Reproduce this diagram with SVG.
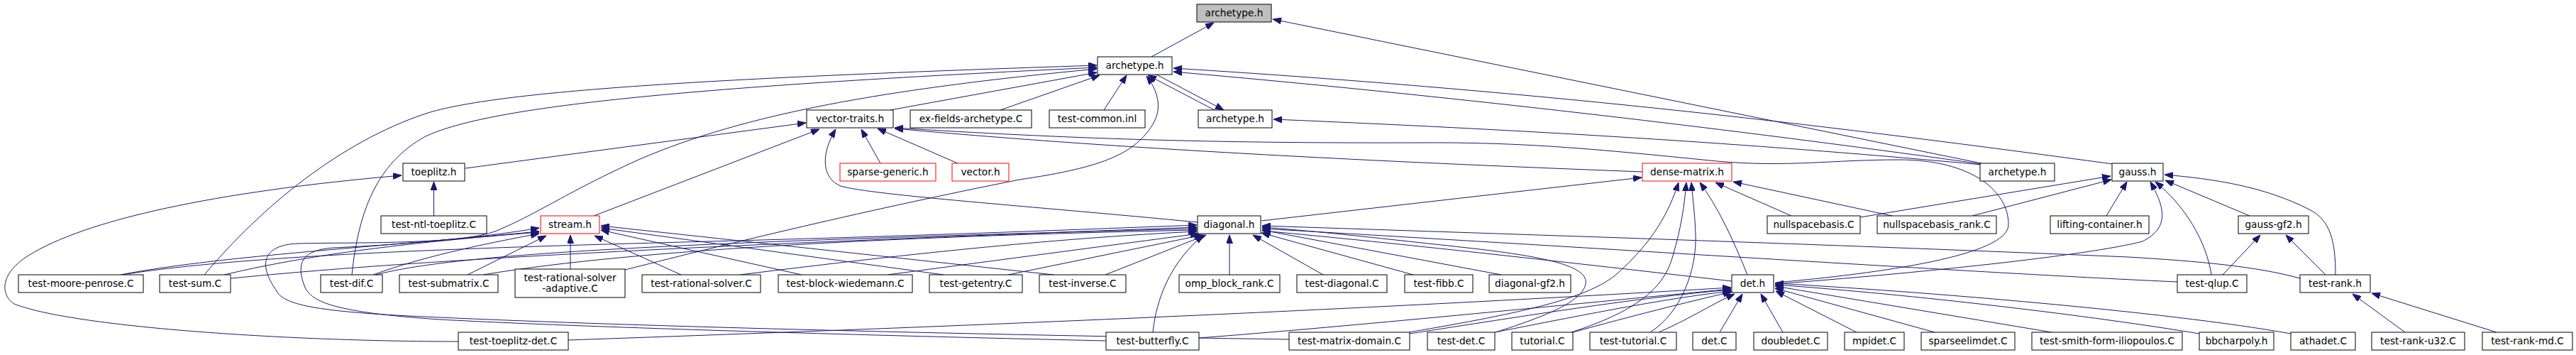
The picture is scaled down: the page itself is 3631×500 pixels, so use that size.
<svg xmlns="http://www.w3.org/2000/svg" width="3631" height="500" viewBox="0 0 3631 500">
<style>
.n rect{fill:#fff;stroke:#000;stroke-width:1}
.n.r rect{stroke:#ff0000}
.n.g rect{fill:#bfbfbf}
.n text{font-family:"DejaVu Sans",sans-serif;font-size:13.7px;fill:#000;text-anchor:middle}
.e path{fill:none;stroke:#191970;stroke-width:1;marker-end:url(#ah)}
</style>
<defs>
<marker id="ah" viewBox="0 0 12 9" refX="12" refY="4.5" markerWidth="12" markerHeight="9" markerUnits="userSpaceOnUse" orient="auto"><path d="M0,0 L12,4.5 L0,9 z" fill="#191970" stroke="#191970"/></marker>
</defs>
<rect x="0" y="0" width="3631" height="500" fill="#fff"/>
<g id="edges" class="e">
<path d="M1623,80 L1711,32"/>
<path d="M2793,230 L1794,27"/>
<path d="M2793,231 C2500,190 2100,140 1654,101"/>
<path d="M2978,231 C2600,180 2200,130 1654,96"/>
<path d="M2793,232 C2500,205 2200,185 1795,168"/>
<path d="M1255,155 L1546,102"/>
<path d="M1410,155 L1550,106"/>
<path d="M1556,155 L1588,106"/>
<path d="M1712,155 L1618,106"/>
<path d="M1630,105 L1725,155"/>
<path d="M288,387 C370,290 480,200 600,160 C700,128 1000,110 1546,92"/>
<path d="M496,387 C505,300 530,230 600,192 C680,155 900,125 1546,95"/>
<path d="M1817,478 C1400,472 900,460 620,447 C450,440 400,430 390,410 C362,370 372,345 420,343 C500,341 650,345 700,325 C760,300 800,270 900,225 C1050,160 1250,125 1546,97"/>
<path d="M881,380 C1000,350 1200,300 1437,253 C1560,235 1600,215 1625,175 C1640,150 1630,125 1616,107"/>
<path d="M1559,480 C1200,472 800,460 620,450 C470,440 440,425 430,405 C416,370 426,352 470,349 C560,345 680,335 760,321"/>
<path d="M646,481 C400,481 100,460 20,428 C0,415 0,385 40,360 C120,310 300,270 566,247"/>
<path d="M611.5,304 L611.5,256"/>
<path d="M656,237 L1136,173"/>
<path d="M837,304 L1155,182"/>
<path d="M1688,313 C1450,290 1230,275 1185,262 C1160,252 1155,220 1178,182"/>
<path d="M1241,230 L1214,182"/>
<path d="M1350,230 L1237,181"/>
<path d="M2315,242 C2000,230 1600,212 1261,181"/>
<path d="M2503,398 C2650,385 2830,360 2831,317 C2832,270 2780,225 2677,225 C2580,225 2520,236 2420,227 C2250,210 2150,200 2000,201 C1700,202 1500,195 1261,180"/>
<path d="M1778,311 L2314,250"/>
<path d="M1986,468 C2150,440 2240,420 2280,385 C2330,340 2352,300 2366,257"/>
<path d="M2215,468 C2300,440 2345,410 2358,360 C2370,320 2374,290 2377,257"/>
<path d="M2326,468 C2370,440 2392,380 2390,330 C2389,300 2386,280 2384,257"/>
<path d="M2463,387 C2440,330 2420,290 2396,257"/>
<path d="M2525,304 L2418,257"/>
<path d="M2667,304 L2443,256"/>
<path d="M2622,306 L2975,248"/>
<path d="M2780,304 L2976,253"/>
<path d="M2969,304 L2998,256"/>
<path d="M2502,400 C2700,385 2943,360 3020,340 C3060,320 3050,290 3031,256"/>
<path d="M3117,387 C3110,340 3080,290 3038,256"/>
<path d="M3171,304 L3052,254"/>
<path d="M3292,387 C3292,340 3285,310 3255,295 C3190,262 3120,252 3051,246"/>
<path d="M3133,387 L3186,331"/>
<path d="M3278,387 L3222,331"/>
<path d="M3390,468 L3316,414"/>
<path d="M3519,468 L3343,413"/>
<path d="M3242,392 C3180,375 3100,368 3000,362 C2600,345 2200,332 1779,318"/>
<path d="M3069,397 C2800,385 2300,352 1779,322"/>
<path d="M2441,396 C2300,380 2000,345 1779,325"/>
<path d="M1865,387 L1766,331"/>
<path d="M1992,387 L1778,328"/>
<path d="M2116,387 L1779,324"/>
<path d="M2108,468 C2180,445 2230,425 2235,400 C2240,375 2180,362 2077,350 C1950,336 1850,325 1779,320"/>
<path d="M1733,387 L1733,331"/>
<path d="M1625,468 C1630,420 1650,370 1696,331"/>
<path d="M1558,387 L1700,331"/>
<path d="M1421,387 L1695,331"/>
<path d="M1251,387 L1690,329"/>
<path d="M1043,387 C1300,355 1500,335 1687,326"/>
<path d="M681,387 C900,350 1300,332 1687,324"/>
<path d="M530,387 C650,355 1000,340 1687,322"/>
<path d="M326,392 C600,365 1000,345 1687,320"/>
<path d="M172,387 C350,358 700,348 1000,340 C1300,332 1500,324 1687,317"/>
<path d="M170,387 C300,362 500,350 760,326"/>
<path d="M316,387 C450,355 600,340 760,327"/>
<path d="M526,387 C600,360 690,342 760,329"/>
<path d="M659,387 L770,332"/>
<path d="M804,379 L804,331"/>
<path d="M960,387 L838,332"/>
<path d="M1130,387 L847,324"/>
<path d="M1330,387 L847,321"/>
<path d="M1485,387 L847,318"/>
<path d="M801,479 C1200,465 1800,443 2440,405"/>
<path d="M1690,476 C1900,460 2200,430 2440,407"/>
<path d="M1987,470 C2150,445 2300,420 2440,408"/>
<path d="M2107,468 C2250,440 2350,420 2440,410"/>
<path d="M2217,468 C2300,445 2380,425 2441,411"/>
<path d="M2338,468 C2380,450 2410,430 2445,414"/>
<path d="M2424,468 L2456,414"/>
<path d="M2513,468 L2482,414"/>
<path d="M2617,468 L2503,410"/>
<path d="M2727,468 L2502,406"/>
<path d="M2892,468 L2502,403"/>
<path d="M3100,470 C2950,445 2700,415 2502,401"/>
<path d="M3229,470 C3050,438 2700,410 2502,399"/>
</g>
<g id="n_root" class="n g"><rect x="1687" y="6" width="105" height="25"/><text x="1739.5" y="22.5">archetype.h</text></g>
<g id="n_a1" class="n"><rect x="1547" y="80" width="105" height="25"/><text x="1599.5" y="96.5">archetype.h</text></g>
<g id="n_vt" class="n"><rect x="1137" y="155" width="122" height="25"/><text x="1198" y="171.5">vector-traits.h</text></g>
<g id="n_ef" class="n"><rect x="1283" y="155" width="171" height="25"/><text x="1368.5" y="171.5">ex-fields-archetype.C</text></g>
<g id="n_tc" class="n"><rect x="1479" y="155" width="135" height="25"/><text x="1546.5" y="171.5">test-common.inl</text></g>
<g id="n_a2" class="n"><rect x="1689" y="155" width="104" height="25"/><text x="1741" y="171.5">archetype.h</text></g>
<g id="n_tz" class="n"><rect x="568" y="230" width="87" height="25"/><text x="611.5" y="246.5">toeplitz.h</text></g>
<g id="n_sg" class="n r"><rect x="1184" y="230" width="135" height="25"/><text x="1251.5" y="246.5">sparse-generic.h</text></g>
<g id="n_vh" class="n r"><rect x="1342" y="230" width="80" height="25"/><text x="1382" y="246.5">vector.h</text></g>
<g id="n_dm" class="n r"><rect x="2315" y="230" width="126" height="25"/><text x="2378" y="246.5">dense-matrix.h</text></g>
<g id="n_a3" class="n"><rect x="2791" y="230" width="105" height="25"/><text x="2843.5" y="246.5">archetype.h</text></g>
<g id="n_ga" class="n"><rect x="2977" y="230" width="72" height="25"/><text x="3013" y="246.5">gauss.h</text></g>
<g id="n_ntl" class="n"><rect x="537" y="304" width="149" height="25"/><text x="611.5" y="320.5">test-ntl-toeplitz.C</text></g>
<g id="n_st" class="n r"><rect x="762" y="304" width="83" height="25"/><text x="803.5" y="320.5">stream.h</text></g>
<g id="n_di" class="n"><rect x="1688" y="304" width="89" height="25"/><text x="1732.5" y="320.5">diagonal.h</text></g>
<g id="n_nb" class="n"><rect x="2491" y="304" width="131" height="25"/><text x="2556.5" y="320.5">nullspacebasis.C</text></g>
<g id="n_nbr" class="n"><rect x="2646" y="304" width="168" height="25"/><text x="2730" y="320.5">nullspacebasis_rank.C</text></g>
<g id="n_lc" class="n"><rect x="2890" y="304" width="139" height="25"/><text x="2959.5" y="320.5">lifting-container.h</text></g>
<g id="n_gf" class="n"><rect x="3155" y="304" width="99" height="25"/><text x="3204.5" y="320.5">gauss-gf2.h</text></g>
<g id="n_mp" class="n"><rect x="26" y="387" width="176" height="25"/><text x="114" y="403.5">test-moore-penrose.C</text></g>
<g id="n_sum" class="n"><rect x="225" y="387" width="100" height="25"/><text x="275" y="403.5">test-sum.C</text></g>
<g id="n_dif" class="n"><rect x="452" y="387" width="87" height="25"/><text x="495.5" y="403.5">test-dif.C</text></g>
<g id="n_sub" class="n"><rect x="563" y="387" width="139" height="25"/><text x="632.5" y="403.5">test-submatrix.C</text></g>
<g id="n_rsa" class="n"><rect x="726" y="379" width="155" height="40"/><text x="803.5" y="396">test-rational-solver</text><text x="803.5" y="411">-adaptive.C</text></g>
<g id="n_rs" class="n"><rect x="905" y="387" width="167" height="25"/><text x="988.5" y="403.5">test-rational-solver.C</text></g>
<g id="n_bw" class="n"><rect x="1097" y="387" width="189" height="25"/><text x="1191.5" y="403.5">test-block-wiedemann.C</text></g>
<g id="n_ge" class="n"><rect x="1310" y="387" width="131" height="25"/><text x="1375.5" y="403.5">test-getentry.C</text></g>
<g id="n_inv" class="n"><rect x="1465" y="387" width="122" height="25"/><text x="1526" y="403.5">test-inverse.C</text></g>
<g id="n_omp" class="n"><rect x="1662" y="387" width="142" height="25"/><text x="1733" y="403.5">omp_block_rank.C</text></g>
<g id="n_td" class="n"><rect x="1828" y="387" width="127" height="25"/><text x="1891.5" y="403.5">test-diagonal.C</text></g>
<g id="n_fib" class="n"><rect x="1980" y="387" width="96" height="25"/><text x="2028" y="403.5">test-fibb.C</text></g>
<g id="n_dg2" class="n"><rect x="2099" y="387" width="115" height="25"/><text x="2156.5" y="403.5">diagonal-gf2.h</text></g>
<g id="n_det" class="n"><rect x="2441" y="387" width="59" height="25"/><text x="2470.5" y="403.5">det.h</text></g>
<g id="n_qlup" class="n"><rect x="3069" y="387" width="98" height="25"/><text x="3118" y="403.5">test-qlup.C</text></g>
<g id="n_tr" class="n"><rect x="3242" y="387" width="99" height="25"/><text x="3291.5" y="403.5">test-rank.h</text></g>
<g id="n_ttd" class="n"><rect x="646" y="468" width="155" height="25"/><text x="723.5" y="484.5">test-toeplitz-det.C</text></g>
<g id="n_but" class="n"><rect x="1559" y="468" width="131" height="25"/><text x="1624.5" y="484.5">test-butterfly.C</text></g>
<g id="n_tmd" class="n"><rect x="1817" y="468" width="170" height="25"/><text x="1902" y="484.5">test-matrix-domain.C</text></g>
<g id="n_tdet" class="n"><rect x="2012" y="468" width="95" height="25"/><text x="2059.5" y="484.5">test-det.C</text></g>
<g id="n_tut" class="n"><rect x="2131" y="468" width="86" height="25"/><text x="2174" y="484.5">tutorial.C</text></g>
<g id="n_ttut" class="n"><rect x="2241" y="468" width="122" height="25"/><text x="2302" y="484.5">test-tutorial.C</text></g>
<g id="n_detc" class="n"><rect x="2386" y="468" width="61" height="25"/><text x="2416.5" y="484.5">det.C</text></g>
<g id="n_dd" class="n"><rect x="2472" y="468" width="104" height="25"/><text x="2524" y="484.5">doubledet.C</text></g>
<g id="n_mpi" class="n"><rect x="2600" y="468" width="84" height="25"/><text x="2642" y="484.5">mpidet.C</text></g>
<g id="n_sed" class="n"><rect x="2708" y="468" width="132" height="25"/><text x="2774" y="484.5">sparseelimdet.C</text></g>
<g id="n_smith" class="n"><rect x="2864" y="468" width="212" height="25"/><text x="2970" y="484.5">test-smith-form-iliopoulos.C</text></g>
<g id="n_bbc" class="n"><rect x="3100" y="468" width="105" height="25"/><text x="3152.5" y="484.5">bbcharpoly.h</text></g>
<g id="n_ath" class="n"><rect x="3229" y="468" width="91" height="25"/><text x="3274.5" y="484.5">athadet.C</text></g>
<g id="n_ru32" class="n"><rect x="3343" y="468" width="131" height="25"/><text x="3408.5" y="484.5">test-rank-u32.C</text></g>
<g id="n_rmd" class="n"><rect x="3499" y="468" width="127" height="25"/><text x="3562.5" y="484.5">test-rank-md.C</text></g>
</svg>
